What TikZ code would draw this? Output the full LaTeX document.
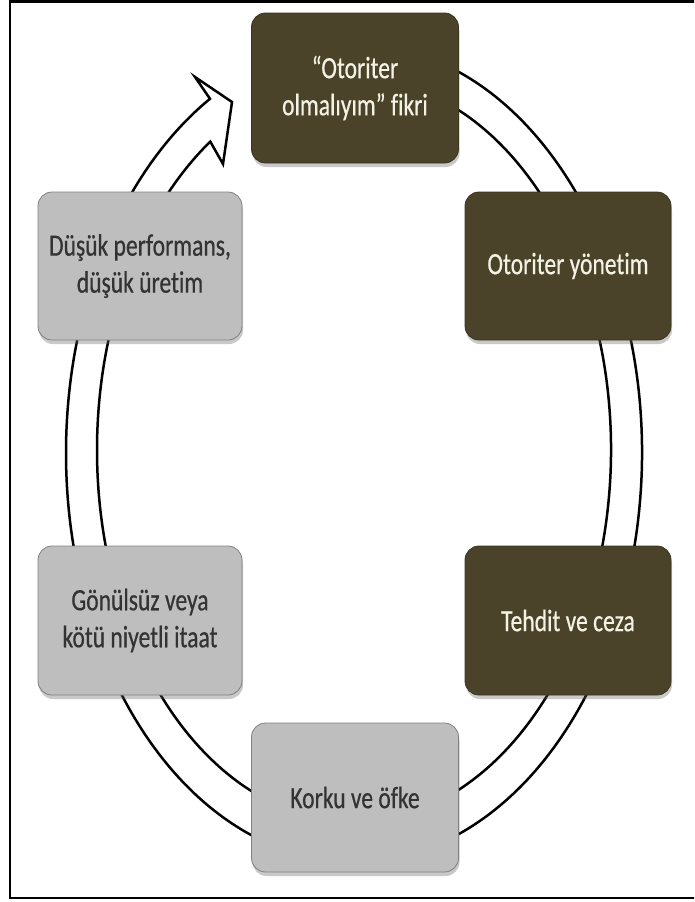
\documentclass[tikz,border=0pt]{standalone}
\usepackage{fontspec}
\setmainfont{Carlito}[FakeStretch=0.76, FakeBold=0.5, Ligatures=NoCommon]
\usetikzlibrary{shadows}
\definecolor{darkbox}{HTML}{4A4229}
\definecolor{lightbox}{HTML}{BEBEBE}
\definecolor{darktext}{HTML}{F4F2E4}
\definecolor{lighttext}{HTML}{333333}
\begin{document}
\begin{tikzpicture}[x=1pt,y=-1pt,
  ring/.style={line width=2.5pt, draw=black},
  cyclebox/.style={rounded corners=14pt, align=center, inner sep=0pt,
    font=\fontsize{31}{37}\selectfont,
    drop shadow={shadow xshift=1pt, shadow yshift=-4pt, opacity=0.35, fill=black!60}},
  darkstep/.style={cyclebox, fill=darkbox, draw=darkbox!80!black, line width=0.8pt, text=darktext},
  lightstep/.style={cyclebox, fill=lightbox, draw=black!50, line width=0.8pt, text=lighttext}]
\useasboundingbox (0,0) rectangle (694,902);
\clip (0,0) rectangle (694,902);
\fill[white] (0,0) rectangle (694,902);
% frame
\draw[line width=2.6pt] (710,1.3) -- (10,1.3) -- (10,898) -- (710,898);
% ring (outer and inner line)
\draw[ring] ([shift={(354,453)}]-80:288 and 409) arc[start angle=-80, end angle=215, x radius=288, y radius=409];
\draw[ring] ([shift={(354,450)}]-80:257 and 372) arc[start angle=-80, end angle=215, x radius=257, y radius=372];
% arrow back to the top
\coordinate (barbB) at (223,164);
\coordinate (tip) at (232,102);
\coordinate (barbA) at (195,77);
\draw[ring, line join=miter] ([shift={(354,450)}]215:257 and 372) arc[start angle=215, end angle=236, x radius=257, y radius=372]
  -- (barbB) -- (tip) -- (barbA) -- ([shift={(354,453)}]240:288 and 409)
  arc[start angle=240, end angle=215, x radius=288, y radius=409];
% boxes
\node[darkstep, minimum width=207pt, minimum height=150pt] (fikri) at (355,88) {“Otoriter\\olmalıyım” fikri};
\node[darkstep, minimum width=206pt, minimum height=148pt] (yonetim) at (568,266) {Otoriter yönetim};
\node[darkstep, minimum width=206pt, minimum height=149pt] (ceza) at (568,620.5) {Tehdit ve ceza};
\node[lightstep, minimum width=207pt, minimum height=149pt] (korku) at (355,797.5) {Korku ve öfke};
\node[lightstep, minimum width=204pt, minimum height=149pt] (itaat) at (140,620.5) {Gönülsüz veya\\kötü niyetli itaat};
\node[lightstep, minimum width=204pt, minimum height=148pt] (performans) at (140,266) {Düşük performans,\\düşük üretim};
\end{tikzpicture}
\end{document}
